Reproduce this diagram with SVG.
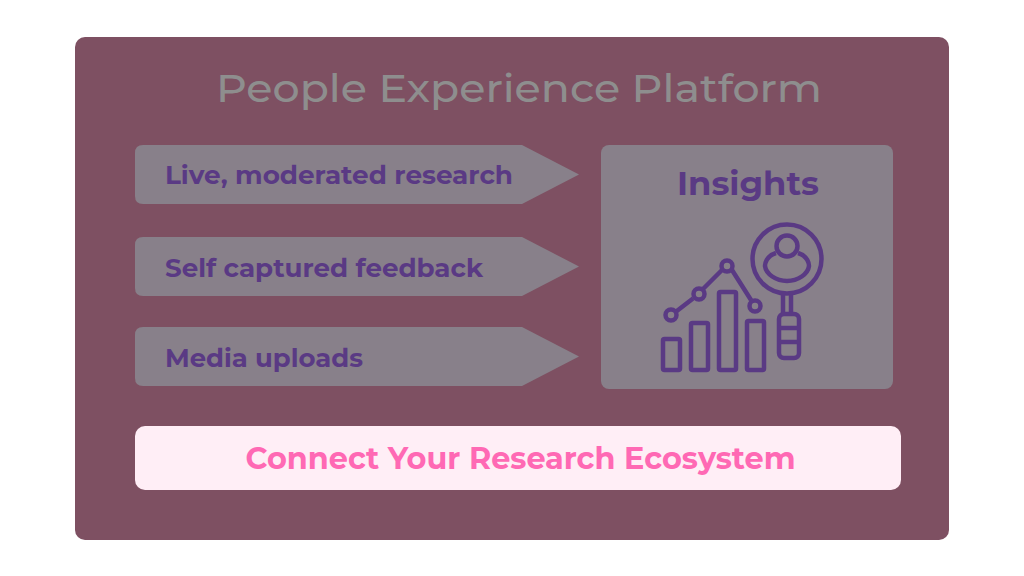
<svg xmlns="http://www.w3.org/2000/svg" width="1024" height="576" viewBox="0 0 1024 576">
<style>
.t{font-family:"Montserrat","Inter","Liberation Sans",sans-serif;font-weight:700}
.a{fill:#88808a}
.l{fill:#5a3a84;font-size:25px}
.i{fill:none;stroke:#5a3a84;stroke-width:4.500;stroke-linejoin:round}
</style>
<rect width="1024" height="576" fill="#fff"/>
<g id="platform"><rect x="75" y="37" width="874" height="503" rx="10" fill="#7e5062"/>
<text class="t" x="519" y="102" text-anchor="middle" font-size="39.500" style="font-weight:500" fill="#8e8e8e" textLength="606" lengthAdjust="spacingAndGlyphs">People Experience Platform</text></g>
<g id="live"><path class="a" d="M143 145H522L579 174.500 522 204H143Q135 204 135 196V153Q135 145 143 145Z"/>
<text class="t l" x="165" y="184" textLength="348" lengthAdjust="spacingAndGlyphs">Live, moderated research</text></g>
<g id="self"><path class="a" d="M143 237H522L579 266.500 522 296H143Q135 296 135 288V245Q135 237 143 237Z"/>
<text class="t l" x="165" y="277" textLength="318" lengthAdjust="spacingAndGlyphs">Self captured feedback</text></g>
<g id="media"><path class="a" d="M143 327H522L579 356.500 522 386H143Q135 386 135 378V335Q135 327 143 327Z"/>
<text class="t l" x="165" y="367" textLength="198" lengthAdjust="spacingAndGlyphs">Media uploads</text></g>
<g id="insights"><rect class="a" x="601" y="145" width="292" height="244" rx="8"/>
<text class="t" x="748" y="195" text-anchor="middle" font-size="32" fill="#5a3a84" textLength="142" lengthAdjust="spacingAndGlyphs">Insights</text>
<g class="i">
<rect x="663" y="339" width="17" height="31" rx="1.500"/>
<rect x="691" y="323" width="17" height="47" rx="1.500"/>
<rect x="719" y="292" width="17" height="78" rx="1.500"/>
<rect x="747" y="321" width="17" height="49" rx="1.500"/>
<path d="M675.500 312L693 298.500M703 289L723 269M732 270L751 300"/>
<circle cx="671" cy="315" r="5.500"/><circle cx="699" cy="294" r="5.500"/><circle cx="727" cy="266" r="5.500"/><circle cx="755" cy="306" r="5.500"/>
<circle cx="787" cy="259" r="34.500"/>
<circle cx="787" cy="246" r="10.500"/>
<path d="M776 253C766 256 765 264 765 266C766 274 776 281 787 281C798 281 808 274 809 266C809 264 808 256 798 253"/>
<path d="M783 294V314M791 294V314"/>
<rect x="779" y="314" width="20" height="44" rx="5"/>
<path d="M779 328H799M779 342H799"/>
</g></g>
<g id="connect"><rect x="135" y="426" width="766" height="64" rx="10" fill="#ffeef6"/>
<text class="t" x="520.500" y="469" text-anchor="middle" font-size="30" fill="#ff69b4" textLength="550" lengthAdjust="spacingAndGlyphs">Connect Your Research Ecosystem</text></g>
<g id="connectors"/>
</svg>
